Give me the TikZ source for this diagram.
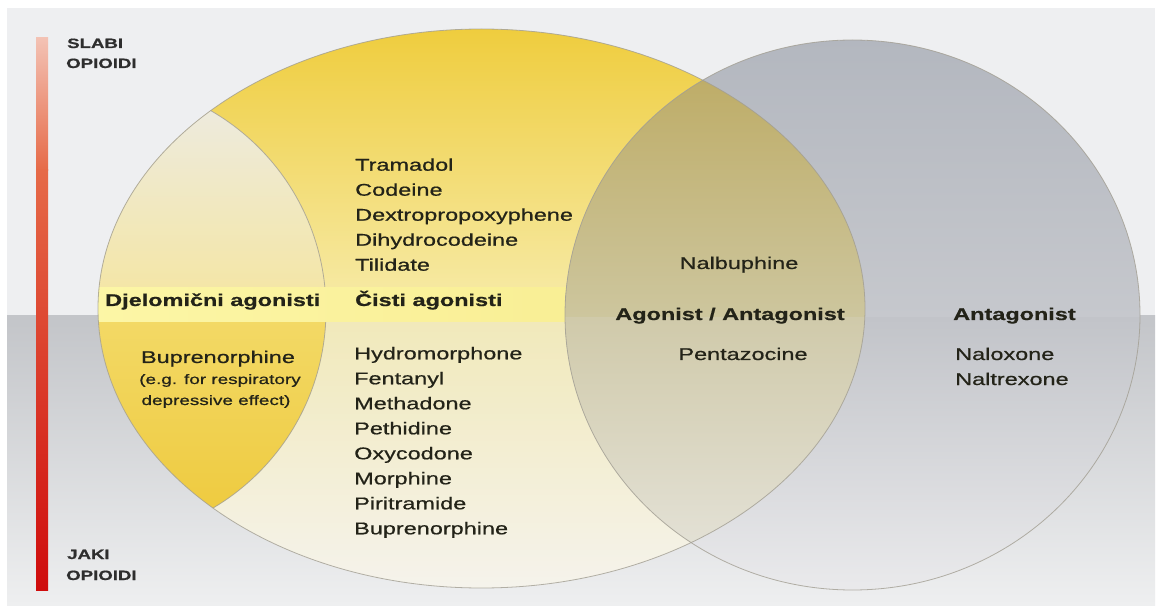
\documentclass[tikz,border=0pt]{standalone}
\usepackage{fontspec}
\setmainfont{Liberation Sans}[FakeStretch=1.38]
\newfontfamily\medfont{Liberation Sans}[FakeStretch=1.38, FakeBold=0.7]
\newfontfamily\heavyfont{Liberation Sans Bold}[FakeStretch=1.38, FakeBold=0.6]
\definecolor{bgtop}{HTML}{EEEFF1}
\definecolor{bglowA}{HTML}{C3C5C9}
\definecolor{bglowB}{HTML}{EEEFF0}
\definecolor{yupA}{HTML}{EFCD3E}
\definecolor{yupB}{HTML}{F6E9A2}
\definecolor{ylowA}{HTML}{F1E9BA}
\definecolor{ylowB}{HTML}{F5F3EC}
\definecolor{lensupA}{HTML}{EDEBE0}
\definecolor{lensupB}{HTML}{F4E6A6}
\definecolor{lensloA}{HTML}{F3D966}
\definecolor{lensloB}{HTML}{EECA3E}
\definecolor{bandA}{HTML}{FCF6A6}
\definecolor{bandB}{HTML}{F7EA8A}
\definecolor{gupA}{HTML}{B3B7BF}
\definecolor{gupB}{HTML}{C6C8CD}
\definecolor{gloA}{HTML}{C2C4C9}
\definecolor{gloB}{HTML}{EAEAEC}
\definecolor{iupA}{HTML}{BDAB64}
\definecolor{iupB}{HTML}{CDC69E}
\definecolor{iloA}{HTML}{D0CAAA}
\definecolor{iloB}{HTML}{E4E2D8}
\definecolor{txt}{HTML}{232318}
\definecolor{sidetxt}{HTML}{2E2E2E}
\definecolor{edge}{HTML}{A29E92}
\definecolor{barA}{HTML}{F3C2B4}
\definecolor{barM}{HTML}{E66A48}
\definecolor{barB}{HTML}{CF0C0C}
\tikzset{
  outline/.style={draw=edge, line width=0.8pt, opacity=0.8},
  lst/.style={anchor=base west, inner sep=0pt, text=txt, font=\medfont\fontsize{17}{20}\selectfont},
  ctr/.style={anchor=base, inner sep=0pt, text=txt, font=\medfont\fontsize{17}{20}\selectfont},
  lbl/.style={anchor=base west, inner sep=0pt, text=txt, font=\heavyfont\fontsize{17}{20}\selectfont},
  lblc/.style={anchor=base, inner sep=0pt, text=txt, font=\heavyfont\fontsize{17}{20}\selectfont},
  small/.style={anchor=base, inner sep=0pt, text=txt, font=\medfont\fontsize{13.7}{16}\selectfont},
  side/.style={anchor=base west, inner sep=0pt, text=sidetxt, font=\heavyfont\fontsize{13.5}{16}\selectfont}
}
\begin{document}
\begin{tikzpicture}[x=1pt,y=-1pt]
\useasboundingbox (0,0) rectangle (1160,612);
\fill[white] (0,0) rectangle (1160,612);
% background panel
\fill[bgtop] (7,8) rectangle (1155,316);
\shade[top color=bglowA, bottom color=bglowB] (7,316) rectangle (1155,605);
% big yellow ellipse
\begin{scope}
  \clip (481.5,308.5) ellipse [x radius=383.5pt, y radius=279.5pt];
  \shade[top color=yupA, bottom color=yupB] (90,29) rectangle (870,292);
  \shade[top color=ylowA, bottom color=ylowB] (90,318) rectangle (870,590);
  \begin{scope}
    \clip (96,310) circle [radius=230pt];
    \shade[top color=lensupA, bottom color=lensupB] (90,100) rectangle (330,292);
    \shade[top color=lensloA, bottom color=lensloB] (90,318) rectangle (330,520);
  \end{scope}
  \draw[outline] (96,310) circle [radius=230pt];
  \shade[left color=bandA, right color=bandB] (90,288) rectangle (870,322);
\end{scope}
% grey circle
\begin{scope}
  \clip (852.5,315) ellipse [x radius=287.5pt, y radius=275pt];
  \shade[top color=gupA, bottom color=gupB] (560,38) rectangle (1145,318);
  \shade[top color=gloA, bottom color=gloB] (560,318) rectangle (1145,592);
  \begin{scope}
    \clip (481.5,308.5) ellipse [x radius=383.5pt, y radius=279.5pt];
    \shade[top color=iupA, bottom color=iupB] (560,60) rectangle (870,318);
    \shade[top color=iloA, bottom color=iloB] (560,318) rectangle (870,560);
  \end{scope}
\end{scope}
\draw[outline] (481.5,308.5) ellipse [x radius=383.5pt, y radius=279.5pt];
\draw[outline] (852.5,315) ellipse [x radius=287.5pt, y radius=275pt];
% strength bar
\shade[top color=barA, bottom color=barM] (36,38) rectangle (48,170.5);
\shade[top color=barM, bottom color=barB] (36,170) rectangle (48,590);
\node[side] (slabi) at (67,48) {SLABI};
\node[side] (slabiop) at (66,68) {OPIOIDI};
\node[side] (jaki) at (67,559) {JAKI};
\node[side] (jakiop) at (66,580) {OPIOIDI};
% pure agonists
\foreach \t [count=\i] in {Tramadol,Codeine,Dextropropoxyphene,Dihydrocodeine,Tilidate}
  \node[lst] (up\i) at (355,145.7+25*\i) {\t};
\foreach \t [count=\i] in {Hydromorphone,Fentanyl,Methadone,Pethidine,Oxycodone,Morphine,Piritramide,Buprenorphine}
  \node[lst] (lo\i) at (354,334.3+25*\i) {\t};
\node[lbl] (partial) at (105,306) {Djelomični agonisti};
\node[lbl] (pure) at (355,306) {Čisti agonisti};
% partial agonists
\node[ctr] (bup) at (218,363) {Buprenorphine};
\node[small] (eg1) at (220,384) {(e.g. for respiratory};
\node[small] (eg2) at (216,405) {depressive effect)};
% agonist / antagonist
\node[ctr] (nalb) at (739,269) {Nalbuphine};
\node[lblc] (agant) at (730,320) {Agonist / Antagonist};
\node[ctr] (penta) at (743,360) {Pentazocine};
% antagonist
\node[lbl] (ant) at (953,320) {Antagonist};
\node[lst] (nalox) at (955,360) {Naloxone};
\node[lst] (naltr) at (955,385) {Naltrexone};
\end{tikzpicture}
\end{document}
